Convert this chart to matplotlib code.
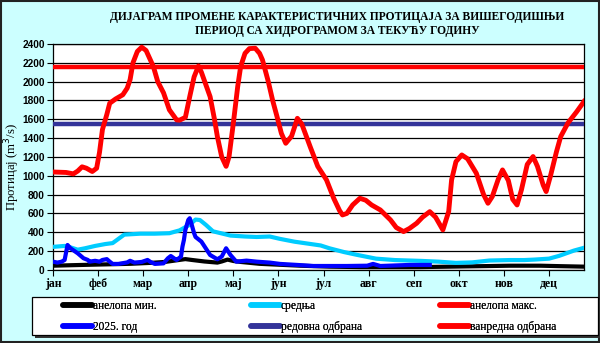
import numpy as np
import matplotlib.pyplot as plt
from matplotlib.patches import Rectangle

# months along the x axis (ticks every 31 days)
months = ['јан', 'феб', 'мар', 'апр', 'мај', 'јун', 'јул', 'авг', 'сеп', 'окт', 'нов', 'дец']

# multi-year maximum flow (анелопа макс.)
max_days = [0, 9, 14, 17, 20, 23, 27, 30, 32, 34, 37, 39, 43, 48, 51, 53, 55, 58, 61, 64, 69,
            72, 76, 80, 85, 87, 91, 94, 97, 100, 102, 108, 111, 113, 116, 119, 121, 124, 127,
            129, 132, 135, 139, 142, 144, 148, 151, 154, 157, 160, 164, 168, 171, 177, 182,
            188, 193, 197, 199, 202, 206, 211, 215, 219, 225, 232, 236, 241, 245, 250, 254,
            259, 263, 268, 272, 274, 277, 281, 285, 291, 296, 299, 302, 306, 309, 313, 316,
            319, 322, 326, 330, 333, 337, 339, 342, 346, 349, 354, 360, 365]
max_vals = [1040, 1035, 1020, 1050, 1095, 1080, 1045, 1080, 1250, 1490, 1650, 1770, 1815, 1860,
            1930, 2020, 2200, 2320, 2365, 2330, 2160, 2000, 1880, 1700, 1593, 1590, 1620, 1840,
            2050, 2166, 2100, 1840, 1600, 1416, 1200, 1100, 1200, 1561, 1950, 2159, 2300, 2350,
            2354, 2300, 2230, 2000, 1800, 1628, 1450, 1345, 1420, 1610, 1550, 1300, 1100, 956,
            760, 630, 584, 600, 690, 761, 740, 690, 637, 531, 450, 407, 440, 496, 560, 619, 560,
            425, 620, 956, 1150, 1221, 1180, 1027, 800, 708, 780, 960, 1062, 950, 750, 690, 850,
            1120, 1204, 1100, 900, 832, 1000, 1250, 1416, 1561, 1680, 1788]

# multi-year mean flow (средња)
mean_days = [0, 8, 12, 17, 22, 29, 36, 41, 45, 49, 60, 70, 80, 87, 94, 98, 101, 105, 110, 122,
             132, 140, 149, 156, 166, 184, 190, 200, 209, 222, 235, 253, 265, 277, 288, 300,
             314, 324, 331, 341, 348, 358, 365]
mean_vals = [245, 255, 240, 215, 230, 255, 275, 285, 330, 375, 385, 385, 390, 420, 480, 535,
             530, 480, 410, 365, 355, 350, 355, 330, 300, 260, 230, 190, 160, 120, 105, 96, 88,
             75, 80, 100, 105, 105, 110, 120, 150, 205, 235]

# multi-year minimum flow (анелопа мин.)
min_days = [0, 12, 25, 39, 53, 67, 77, 84, 91, 96, 104, 113, 116, 120, 124, 129, 142, 156, 170,
            190, 211, 232, 252, 273, 294, 314, 335, 349, 365]
min_vals = [45, 50, 55, 60, 65, 75, 85, 100, 115, 105, 90, 78, 90, 110, 95, 85, 65, 55, 45, 35,
            30, 30, 30, 35, 40, 45, 45, 40, 35]

# current year (2025. год)
cur_days = [0, 3, 6, 8, 10, 12, 17, 21, 24, 25, 29, 32, 34, 37, 39, 41, 45, 51, 53, 56, 61,
            65, 67, 70, 76, 79, 81, 84, 85, 88, 89, 90, 91, 93, 94, 95, 97, 98, 102, 108, 113,
            116, 119, 122, 126, 133, 140, 149, 156, 168, 179, 202, 216, 220, 225, 245, 259]
cur_vals = [88, 78, 88, 106, 265, 230, 177, 124, 106, 88, 97, 88, 106, 115, 88, 64, 64, 80, 97,
            78, 85, 106, 85, 64, 70, 124, 148, 115, 106, 142, 248, 318, 425, 531, 549, 500,
            390, 350, 301, 159, 113, 142, 230, 159, 88, 99, 88, 78, 64, 53, 42, 42, 45, 64, 42,
            53, 53]

# defence levels
regular_level = 1550
emergency_level = 2150

serif = 'Liberation Serif'

fig = plt.figure(figsize=(6.0, 3.43), dpi=100)
fig.patch.set_facecolor('#ccffff')
fig.patches.append(Rectangle((0.002, 0.003), 0.996, 0.994, transform=fig.transFigure,
                             fill=False, edgecolor='#222222', linewidth=1.5))

ax = fig.add_axes([0.0883, 0.213, 0.885, 0.659])
ax.set_facecolor('white')

ax.plot(min_days, min_vals, color='black', lw=3, zorder=3, label='анелопа мин.')
ax.plot(cur_days, cur_vals, color='#0000ff', lw=3, zorder=5, label='2025. год')
ax.plot(mean_days, mean_vals, color='#00ccff', lw=3, zorder=4, label='средња')
ax.axhline(regular_level, color='#333399', lw=3.2, zorder=3, label='редовна одбрана')
ax.plot(max_days, max_vals, color='#ff0000', lw=3.5, zorder=4, label='анелопа макс.')
ax.axhline(emergency_level, color='#ff0000', lw=3.2, zorder=3, label='ванредна одбрана')

ax.set_xlim(0, 365)
ax.set_ylim(0, 2400)
ax.set_yticks(np.arange(0, 2401, 200))
ax.yaxis.grid(True, color='black', lw=0.9)
ax.set_axisbelow(True)
ax.set_xticks(np.arange(0, 365, 31))
ax.set_xticklabels(months, family=serif, fontweight='bold', fontsize=8.5)
for lab in ax.get_yticklabels():
    lab.set_family('Liberation Sans')
    lab.set_fontweight('bold')
    lab.set_fontsize(7.3)
ax.tick_params(axis='both', direction='out', length=4, width=0.8, color='black', pad=2)
for sp in ax.spines.values():
    sp.set_color('black')
    sp.set_linewidth(0.9)

fig.text(0.021, 0.512, 'Протицај (m$^3$/s)', rotation=90, ha='center', va='center',
         family=serif, fontsize=9.2)

fig.text(0.562, 0.929, 'ДИЈАГРАМ ПРОМЕНЕ КАРАКТЕРИСТИЧНИХ ПРОТИЦАЈА ЗА ВИШЕГОДИШЊИ\n'
         'ПЕРИОД СА ХИДРОГРАМОМ ЗА ТЕКУЋУ ГОДИНУ',
         ha='center', va='center', family=serif, fontweight='bold',
         fontsize=8.3, linespacing=1.25)

# legend box with shadow below the plot
fig.patches.append(Rectangle((35 / 600, 1 - 338 / 343), 566 / 600, 38 / 343,
                             transform=fig.transFigure, facecolor='#333333', edgecolor='none'))
fig.patches.append(Rectangle((32 / 600, 1 - 335 / 343), 566 / 600, 38 / 343,
                             transform=fig.transFigure, facecolor='white', edgecolor='black',
                             linewidth=0.9))

handles, labels = ax.get_legend_handles_labels()
columns = [['анелопа мин.', '2025. год'],
           ['средња', 'редовна одбрана'],
           ['анелопа макс.', 'ванредна одбрана']]
col_x = [63 / 600, 251 / 600, 440 / 600]
for names, x0 in zip(columns, col_x):
    hs = [handles[labels.index(n)] for n in names]
    leg = fig.legend(hs, names, loc='upper left', bbox_to_anchor=(x0, 1 - 300 / 343),
                     frameon=False, prop={'family': serif, 'size': 8.3},
                     handlelength=2.5, handletextpad=0.1, borderaxespad=0,
                     labelspacing=0.75, borderpad=0)
    for line in leg.get_lines():
        line.set_linewidth(4)
        line.set_solid_capstyle('round')
    fig.add_artist(leg)

plt.savefig('out.png', dpi=100, facecolor=fig.get_facecolor())
